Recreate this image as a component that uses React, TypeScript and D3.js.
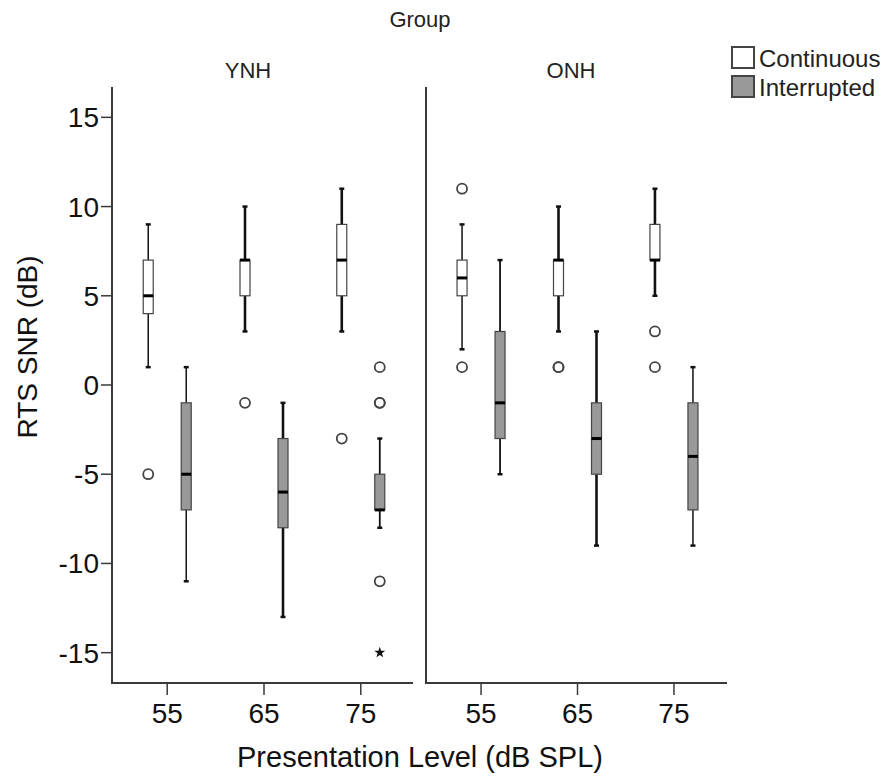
import React from "react";
import * as d3 from "d3";

const groups = ["YNH", "ONH"];
const levels = ["55", "65", "75"];
const conditions = ["Continuous", "Interrupted"];
const yTicks = [-15, -10, -5, 0, 5, 10, 15];

type Box = { level: string; lo: number; q1: number; med: number; q3: number; hi: number; outliers: number[]; extremes: number[] };

const ynhContinuous: Box[] = [
  { level: "55", lo: 1, q1: 4, med: 5, q3: 7, hi: 9, outliers: [-5], extremes: [] },
  { level: "65", lo: 3, q1: 5, med: 7, q3: 7, hi: 10, outliers: [-1], extremes: [] },
  { level: "75", lo: 3, q1: 5, med: 7, q3: 9, hi: 11, outliers: [-3], extremes: [] },
];
const ynhInterrupted: Box[] = [
  { level: "55", lo: -11, q1: -7, med: -5, q3: -1, hi: 1, outliers: [], extremes: [] },
  { level: "65", lo: -13, q1: -8, med: -6, q3: -3, hi: -1, outliers: [], extremes: [] },
  { level: "75", lo: -8, q1: -7, med: -7, q3: -5, hi: -3, outliers: [1, -1, -1, -11], extremes: [-15] },
];
const onhContinuous: Box[] = [
  { level: "55", lo: 2, q1: 5, med: 6, q3: 7, hi: 9, outliers: [11, 1], extremes: [] },
  { level: "65", lo: 3, q1: 5, med: 7, q3: 7, hi: 10, outliers: [1, 1], extremes: [] },
  { level: "75", lo: 5, q1: 7, med: 7, q3: 9, hi: 11, outliers: [3, 1], extremes: [] },
];
const onhInterrupted: Box[] = [
  { level: "55", lo: -5, q1: -3, med: -1, q3: 3, hi: 7, outliers: [], extremes: [] },
  { level: "65", lo: -9, q1: -5, med: -3, q3: -1, hi: 3, outliers: [], extremes: [] },
  { level: "75", lo: -9, q1: -7, med: -4, q3: -1, hi: 1, outliers: [], extremes: [] },
];

const seriesData: Record<string, Record<string, Box[]>> = {
  YNH: { Continuous: ynhContinuous, Interrupted: ynhInterrupted },
  ONH: { Continuous: onhContinuous, Interrupted: onhInterrupted },
};

// style only: whisker stroke widths per box
const whiskerWidths: Record<string, Record<string, number[]>> = {
  YNH: { Continuous: [1.5, 2.6, 2.6], Interrupted: [1.5, 2.6, 1.8] },
  ONH: { Continuous: [1.5, 2.6, 2.6], Interrupted: [1.8, 2.6, 1.5] },
};

const FONT = "'Liberation Sans', Arial, sans-serif";
const AX = "#3a3a3a";
const fills: Record<string, string> = { Continuous: "#ffffff", Interrupted: "#999999" };

export default function App() {
  const W = 886, H = 776;
  const y = d3.scaleLinear().domain([-16.7, 16.7]).range([683, 87]);
  const panels = [
    { g: groups[0], axis: [112, 413], range: [114, 414], labelX: 248 },
    { g: groups[1], axis: [426, 727], range: [428, 727], labelX: 571 },
  ];
  const inner = d3.scaleBand().domain(conditions).range([-38, 38]);
  const boxW = 10;
  const capW = 5;
  const star = d3.symbol().type(d3.symbolStar).size(38)();

  return (
    <svg width={W} height={H} style={{ position: "absolute", left: 0, top: 0, background: "#fff" }} fontFamily={FONT}>
      <text x={420} y={27} textAnchor="middle" fontSize={22} fill="#222">Group</text>

      {/* legend */}
      {conditions.map((c, i) => (
        <g key={c}>
          <rect x={732} y={47 + i * 29} width={22} height={21} fill={fills[c]} stroke="#444" strokeWidth={2} />
          <text x={759} y={67 + i * 29} fontSize={24} fill="#222">{c}</text>
        </g>
      ))}

      {/* y axis labels */}
      {yTicks.map((t) => (
        <g key={t}>
          <line x1={101} x2={112} y1={y(t)} y2={y(t)} stroke={AX} strokeWidth={1.5} />
          <text x={99} y={y(t) + 10} textAnchor="end" fontSize={28} fill="#111">{t}</text>
        </g>
      ))}
      <text transform="translate(37,347) rotate(-90)" textAnchor="middle" fontSize={28} fill="#111">RTS SNR (dB)</text>

      {panels.map((p) => {
        const x = d3.scalePoint().domain(levels).range(p.range as [number, number]).padding(0.55);
        return (
          <g key={p.g}>
            <text x={p.labelX} y={78} textAnchor="middle" fontSize={22} fill="#222">{p.g}</text>
            <line x1={p.axis[0]} x2={p.axis[0]} y1={87} y2={684} stroke={AX} strokeWidth={2} />
            <line x1={p.axis[0]} x2={p.axis[1]} y1={683} y2={683} stroke={AX} strokeWidth={2} />
            {levels.map((l) => (
              <g key={l}>
                <line x1={x(l)} x2={x(l)} y1={683} y2={695} stroke={AX} strokeWidth={1.5} />
                <text x={x(l)} y={723} textAnchor="middle" fontSize={28} fill="#111">{l}</text>
              </g>
            ))}
            {conditions.map((c) =>
              seriesData[p.g][c].map((b, i) => {
                const cx = (x(b.level) as number) + (inner(c) as number) + inner.bandwidth() / 2;
                const ww = whiskerWidths[p.g][c][i];
                return (
                  <g key={c + b.level}>
                    <line x1={cx} x2={cx} y1={y(b.hi)} y2={y(b.q3)} stroke="#111" strokeWidth={ww} />
                    <line x1={cx} x2={cx} y1={y(b.q1)} y2={y(b.lo)} stroke="#111" strokeWidth={ww} />
                    <line x1={cx - capW / 2} x2={cx + capW / 2} y1={y(b.hi)} y2={y(b.hi)} stroke="#111" strokeWidth={2.5} />
                    <line x1={cx - capW / 2} x2={cx + capW / 2} y1={y(b.lo)} y2={y(b.lo)} stroke="#111" strokeWidth={2.5} />
                    <rect x={cx - boxW / 2} y={y(b.q3)} width={boxW} height={y(b.q1) - y(b.q3)} fill={fills[c]} stroke="#444" strokeWidth={1.2} />
                    <line x1={cx - boxW / 2} x2={cx + boxW / 2} y1={y(b.med)} y2={y(b.med)} stroke="#000" strokeWidth={3} />
                    {b.outliers.map((o, k) => (
                      <circle key={k} cx={cx} cy={y(o)} r={5} fill="none" stroke="#444" strokeWidth={1.8} />
                    ))}
                    {b.extremes.map((e, k) => (
                      <path key={"e" + k} d={star as string} transform={`translate(${cx},${y(e)})`} fill="#111" />
                    ))}
                  </g>
                );
              })
            )}
          </g>
        );
      })}

      <text x={420} y={767} textAnchor="middle" fontSize={29} fill="#111">Presentation Level (dB SPL)</text>
    </svg>
  );
}
